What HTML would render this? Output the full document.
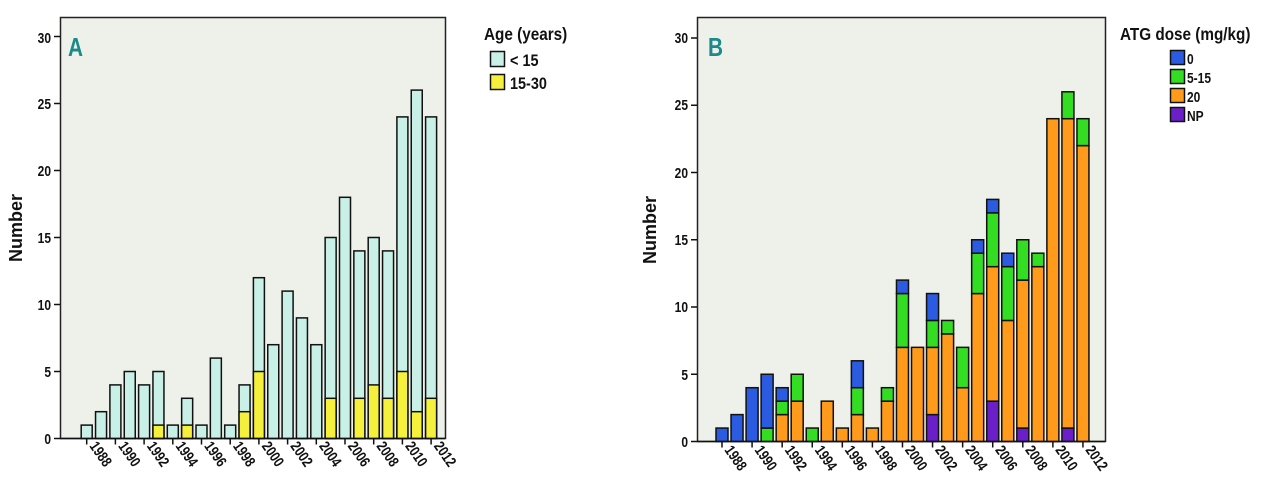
<!DOCTYPE html>
<html><head><meta charset="utf-8"><style>
html,body{margin:0;padding:0;background:#fff;}
svg{display:block;font-family:"Liberation Sans",sans-serif;}
.t{font-weight:bold;font-size:15px;fill:#111;}
.y{font-weight:bold;font-size:15px;fill:#111;text-anchor:end;}
.lg{font-weight:bold;font-size:18px;fill:#111;}
.li{font-weight:bold;font-size:17px;fill:#111;}
</style></head><body>
<svg id="s" width="1280" height="488" viewBox="0 0 1280 488">
<rect x="60.5" y="17.5" width="385" height="421" fill="#eef0ea" stroke="#222" stroke-width="1.5"/>
<rect x="697.5" y="17.5" width="408" height="424" fill="#eef0ea" stroke="#222" stroke-width="1.5"/>
<text transform="translate(68,56) scale(0.8,1)" font-size="26" font-weight="bold" fill="#1a8a8a">A</text>
<text transform="translate(708,56) scale(0.8,1)" font-size="26" font-weight="bold" fill="#1a8a8a">B</text>
<g id="ga"></g><g id="gb"></g>
<g class="y">
<text transform="translate(51,444) scale(0.8,1)">0</text><text transform="translate(51,377) scale(0.8,1)">5</text><text transform="translate(51,310) scale(0.8,1)">10</text><text transform="translate(51,243) scale(0.8,1)">15</text><text transform="translate(51,176) scale(0.8,1)">20</text><text transform="translate(51,109) scale(0.8,1)">25</text><text transform="translate(51,43) scale(0.8,1)">30</text>
<text transform="translate(688,447) scale(0.8,1)">0</text><text transform="translate(688,380) scale(0.8,1)">5</text><text transform="translate(688,312) scale(0.8,1)">10</text><text transform="translate(688,245) scale(0.8,1)">15</text><text transform="translate(688,178) scale(0.8,1)">20</text><text transform="translate(688,110) scale(0.8,1)">25</text><text transform="translate(688,43) scale(0.8,1)">30</text>
</g>
<text x="22" y="228" transform="rotate(-90 22 228)" text-anchor="middle" font-weight="bold" font-size="18" fill="#111">Number</text>
<text x="656" y="230" transform="rotate(-90 656 230)" text-anchor="middle" font-weight="bold" font-size="18" fill="#111">Number</text>
<g class="t">
<text transform="translate(89,446) rotate(55) scale(0.8,1)">1988</text>
<text transform="translate(117.7,446) rotate(55) scale(0.8,1)">1990</text>
<text transform="translate(146.4,446) rotate(55) scale(0.8,1)">1992</text>
<text transform="translate(175.1,446) rotate(55) scale(0.8,1)">1994</text>
<text transform="translate(203.8,446) rotate(55) scale(0.8,1)">1996</text>
<text transform="translate(232.5,446) rotate(55) scale(0.8,1)">1998</text>
<text transform="translate(261.2,446) rotate(55) scale(0.8,1)">2000</text>
<text transform="translate(289.9,446) rotate(55) scale(0.8,1)">2002</text>
<text transform="translate(318.6,446) rotate(55) scale(0.8,1)">2004</text>
<text transform="translate(347.3,446) rotate(55) scale(0.8,1)">2006</text>
<text transform="translate(376,446) rotate(55) scale(0.8,1)">2008</text>
<text transform="translate(404.7,446) rotate(55) scale(0.8,1)">2010</text>
<text transform="translate(433.4,446) rotate(55) scale(0.8,1)">2012</text>
<text transform="translate(724,450) rotate(55) scale(0.8,1)">1988</text>
<text transform="translate(754.1,450) rotate(55) scale(0.8,1)">1990</text>
<text transform="translate(784.2,450) rotate(55) scale(0.8,1)">1992</text>
<text transform="translate(814.2,450) rotate(55) scale(0.8,1)">1994</text>
<text transform="translate(844.3,450) rotate(55) scale(0.8,1)">1996</text>
<text transform="translate(874.4,450) rotate(55) scale(0.8,1)">1998</text>
<text transform="translate(904.5,450) rotate(55) scale(0.8,1)">2000</text>
<text transform="translate(934.6,450) rotate(55) scale(0.8,1)">2002</text>
<text transform="translate(964.6,450) rotate(55) scale(0.8,1)">2004</text>
<text transform="translate(994.7,450) rotate(55) scale(0.8,1)">2006</text>
<text transform="translate(1024.8,450) rotate(55) scale(0.8,1)">2008</text>
<text transform="translate(1054.9,450) rotate(55) scale(0.8,1)">2010</text>
<text transform="translate(1085,450) rotate(55) scale(0.8,1)">2012</text>
</g>
<text class="lg" transform="translate(484,40) scale(0.85,1)">Age (years)</text>
<rect x="490.5" y="51.5" width="14" height="15" fill="#c8f0e6" stroke="#111" stroke-width="1.5"/>
<text class="li" transform="translate(510,66) scale(0.85,1)">&lt; 15</text>
<rect x="490.5" y="74.5" width="14" height="15" fill="#f5f03c" stroke="#111" stroke-width="1.5"/>
<text class="li" transform="translate(510,89) scale(0.85,1)">15-30</text>
<text class="lg" transform="translate(1120,40) scale(0.85,1)">ATG dose (mg/kg)</text>
<rect x="1170.5" y="50.5" width="14" height="14" fill="#2b5be0" stroke="#111" stroke-width="1.5"/>
<text class="y" style="text-anchor:start" transform="translate(1187,64) scale(0.8,1)">0</text>
<rect x="1170.5" y="69.5" width="14" height="14" fill="#33dd22" stroke="#111" stroke-width="1.5"/>
<text class="y" style="text-anchor:start" transform="translate(1187,83) scale(0.8,1)">5-15</text>
<rect x="1170.5" y="88.5" width="14" height="14" fill="#ff9a1a" stroke="#111" stroke-width="1.5"/>
<text class="y" style="text-anchor:start" transform="translate(1187,102) scale(0.8,1)">20</text>
<rect x="1170.5" y="107.5" width="14" height="14" fill="#6a1fc8" stroke="#111" stroke-width="1.5"/>
<text class="y" style="text-anchor:start" transform="translate(1187,121) scale(0.8,1)">NP</text>
</svg>
<script>
var NS="http://www.w3.org/2000/svg";
function r(g,x,y,w,h,f,extra){var e=document.createElementNS(NS,"rect");e.setAttribute("x",x);e.setAttribute("y",y);e.setAttribute("width",w);e.setAttribute("height",h);e.setAttribute("fill",f);if(extra){e.setAttribute("stroke","#111");e.setAttribute("stroke-width","1.5");}g.appendChild(e);}
function l(g,x1,y1,x2,y2){var e=document.createElementNS(NS,"line");e.setAttribute("x1",x1);e.setAttribute("y1",y1);e.setAttribute("x2",x2);e.setAttribute("y2",y2);e.setAttribute("stroke","#111");e.setAttribute("stroke-width","1.5");g.appendChild(e);}
var ga=document.getElementById("ga");
var tot=[1,2,4,5,4,5,1,3,1,6,1,4,12,7,11,9,7,15,18,14,15,14,24,26,24];
var yel=[0,0,0,0,0,1,0,1,0,0,0,2,5,0,0,0,0,3,0,3,4,3,5,2,3];
var z=438.5,u=13.4;
for(var i=0;i<25;i++){var c=86.7+14.35*i,w=11;
 r(ga,c-w/2,z-tot[i]*u,w,tot[i]*u,"#c8f0e6",1);
 if(yel[i])r(ga,c-w/2,z-yel[i]*u,w,yel[i]*u,"#f5f03c",1);
 if(i%2==0)l(ga,c,z,c,z+6);}
l(ga,60,z,445,z);
[0,5,10,15,20,25,30].forEach(function(v){l(ga,54,z-v*u,60,z-v*u);});
var gb=document.getElementById("gb");
var B=[[0,0,0,1],[0,0,0,2],[0,0,0,4],[0,0,1,4],[0,2,1,1],[0,3,2,0],[0,0,1,0],[0,3,0,0],[0,1,0,0],[0,2,2,2],[0,1,0,0],[0,3,1,0],[0,7,4,1],[0,7,0,0],[2,5,2,2],[0,8,1,0],[0,4,3,0],[0,11,3,1],[3,10,4,1],[0,9,4,1],[1,11,3,0],[0,13,1,0],[0,24,0,0],[1,23,2,0],[0,22,2,0]];
var cols=["#6a1fc8","#ff9a1a","#33dd22","#2b5be0"];
var zb=441.5,ub=13.45;
for(var i=0;i<25;i++){var c=722+15.04*i,w=12,acc=0;
 for(var k=0;k<4;k++){var v=B[i][k];if(!v)continue;r(gb,c-w/2,zb-(acc+v)*ub,w,v*ub,cols[k],1);acc+=v;}
 if(i%2==0)l(gb,c,zb,c,zb+6);}
l(gb,697,zb,1105,zb);
[0,5,10,15,20,25,30].forEach(function(v){l(gb,691,zb-v*ub,697,zb-v*ub);});
</script>
</body></html>
